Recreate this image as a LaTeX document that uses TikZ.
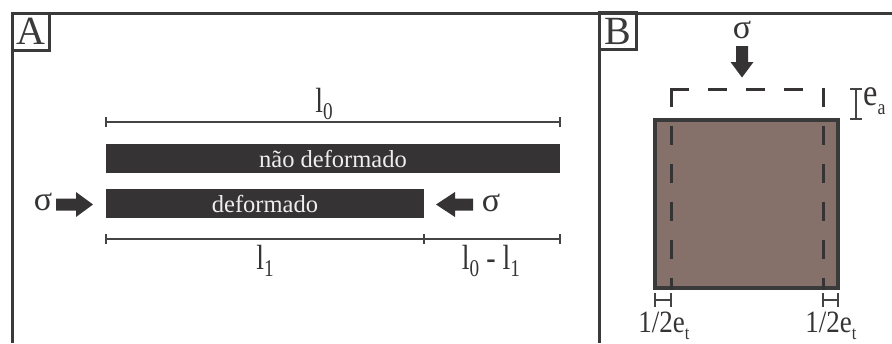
\documentclass[tikz,border=0pt]{standalone}
\usepackage{fontspec}
\setmainfont{Liberation Serif}
\definecolor{framec}{HTML}{3A3A3A}
\definecolor{barc}{HTML}{363334}
\definecolor{brownc}{HTML}{85716A}
\definecolor{dimc}{HTML}{444444}
\definecolor{bartext}{HTML}{EEEEEE}
\newcommand{\lsub}[2]{\raisebox{-0.22em}{\fontsize{#1}{#1}\selectfont #2}}
\tikzset{
  framel/.style={draw=framec, line width=3},
  panellbl/.style={draw=framec, line width=3, inner sep=0, minimum width=37, minimum height=37, font=\fontsize{40}{40}\selectfont, text=framec},
  barnode/.style={fill=barc, inner sep=0, text=bartext, font=\fontsize{24.5}{24.5}\selectfont},
  dimline/.style={draw=dimc, line width=1.5},
  brack/.style={draw=dimc, line width=2},
  forcearrow/.style={fill=barc, draw=none},
  sigmalbl/.style={font=\fontsize{34}{34}\selectfont, text=barc, inner sep=0},
  lenlbl/.style={font=\fontsize{35}{35}\selectfont, text=barc, inner sep=0},
  smalllbl/.style={font=\fontsize{31}{31}\selectfont, text=barc, inner sep=0},
  dashl/.style={draw=barc, line width=3, line cap=rect, dash pattern=on 16 off 22},
}
\begin{document}
\begin{tikzpicture}[x=1pt,y=-1pt]
\useasboundingbox (0,0) rectangle (892,343);
% frame
\draw[framel] (12,343) -- (12,13) -- (892,13);
\draw[framel] (599,13) -- (599,343);
\node[panellbl] (A) at (30.5,31.5) {A};
\node[panellbl] (B) at (618,31) {B};
% panel A: dimension l0
\coordinate (d0a) at (106,122);
\coordinate (d0b) at (560,122);
\draw[dimline] (d0a) -- (d0b);
\draw[dimline] ([yshift=-5]d0a) -- ([yshift=5]d0a);
\draw[dimline] ([yshift=-5]d0b) -- ([yshift=5]d0b);
\node[lenlbl] (l0lab) at (324,104) {\scalebox{0.8}[1]{l\lsub{24}{0}}};
% bars
\node[barnode, minimum width=454, minimum height=29] (undef) at (333,158.5) {não deformado};
\node[barnode, minimum width=318, minimum height=29] (def) at (265,203.5) {deformado};
% force arrows
\node[sigmalbl] (sigL) at (43,202) {σ};
\path[forcearrow] (56,198.5) -- (76,198.5) -- (76,192) -- (93,204.5) -- (76,217) -- (76,210.5) -- (56,210.5) -- cycle;
\path[forcearrow] (473,198.5) -- (455,198.5) -- (455,192) -- (436,204.5) -- (455,217) -- (455,210.5) -- (473,210.5) -- cycle;
\node[sigmalbl] (sigR) at (491,203) {σ};
% dimension l1 and l0-l1
\coordinate (d1a) at (106,239);
\coordinate (d1b) at (424,239);
\coordinate (d1c) at (560,239);
\draw[dimline] (d1a) -- (d1c);
\draw[dimline] ([yshift=-5]d1a) -- ([yshift=5]d1a);
\draw[dimline] ([yshift=-5]d1b) -- ([yshift=5]d1b);
\draw[dimline] ([yshift=-5]d1c) -- ([yshift=5]d1c);
\node[lenlbl] (l1lab) at (265,261) {\scalebox{0.8}[1]{l\lsub{24}{1}}};
\node[lenlbl] (difflab) at (491,261) {\scalebox{0.8}[1]{l\lsub{24}{0} - l\lsub{24}{1}}};
% panel B
\node[sigmalbl] (sigT) at (742,30) {σ};
\path[forcearrow] (736,46) -- (748,46) -- (748,62) -- (753.5,62) -- (742,77.5) -- (730.5,62) -- (736,62) -- cycle;
\draw[draw=framec, line width=3.5, fill=brownc] (655,120) rectangle (838,288);
\draw[dashl] (671,89) -- (823,89);
\draw[dashl] (671,89) -- (671,288);
\draw[dashl] (823,89) -- (823,288);
% e_a bracket
\coordinate (eat) at (856,89);
\coordinate (eab) at (856,119);
\draw[brack] (eat) -- (eab);
\draw[brack] ([xshift=-6]eat) -- ([xshift=6]eat);
\draw[brack] ([xshift=-6]eab) -- ([xshift=6]eab);
\node[lenlbl, anchor=west] (ealab) at (863,101) {\scalebox{0.85}[1]{\fontsize{38}{38}\selectfont e\lsub{21}{a}}};
% half thickness brackets
\coordinate (hla) at (655,300);
\coordinate (hlb) at (671,300);
\coordinate (hra) at (823,300);
\coordinate (hrb) at (838,300);
\draw[brack] (hla) -- (hlb);
\draw[brack] ([yshift=-7]hla) -- ([yshift=7]hla);
\draw[brack] ([yshift=-7]hlb) -- ([yshift=7]hlb);
\draw[brack] (hra) -- (hrb);
\draw[brack] ([yshift=-7]hra) -- ([yshift=7]hra);
\draw[brack] ([yshift=-7]hrb) -- ([yshift=7]hrb);
\node[smalllbl] (htl) at (664,326) {\scalebox{0.87}[1]{1/2e\lsub{19}{t}}};
\node[smalllbl] (htr) at (831,326) {\scalebox{0.87}[1]{1/2e\lsub{19}{t}}};
\end{tikzpicture}
\end{document}
